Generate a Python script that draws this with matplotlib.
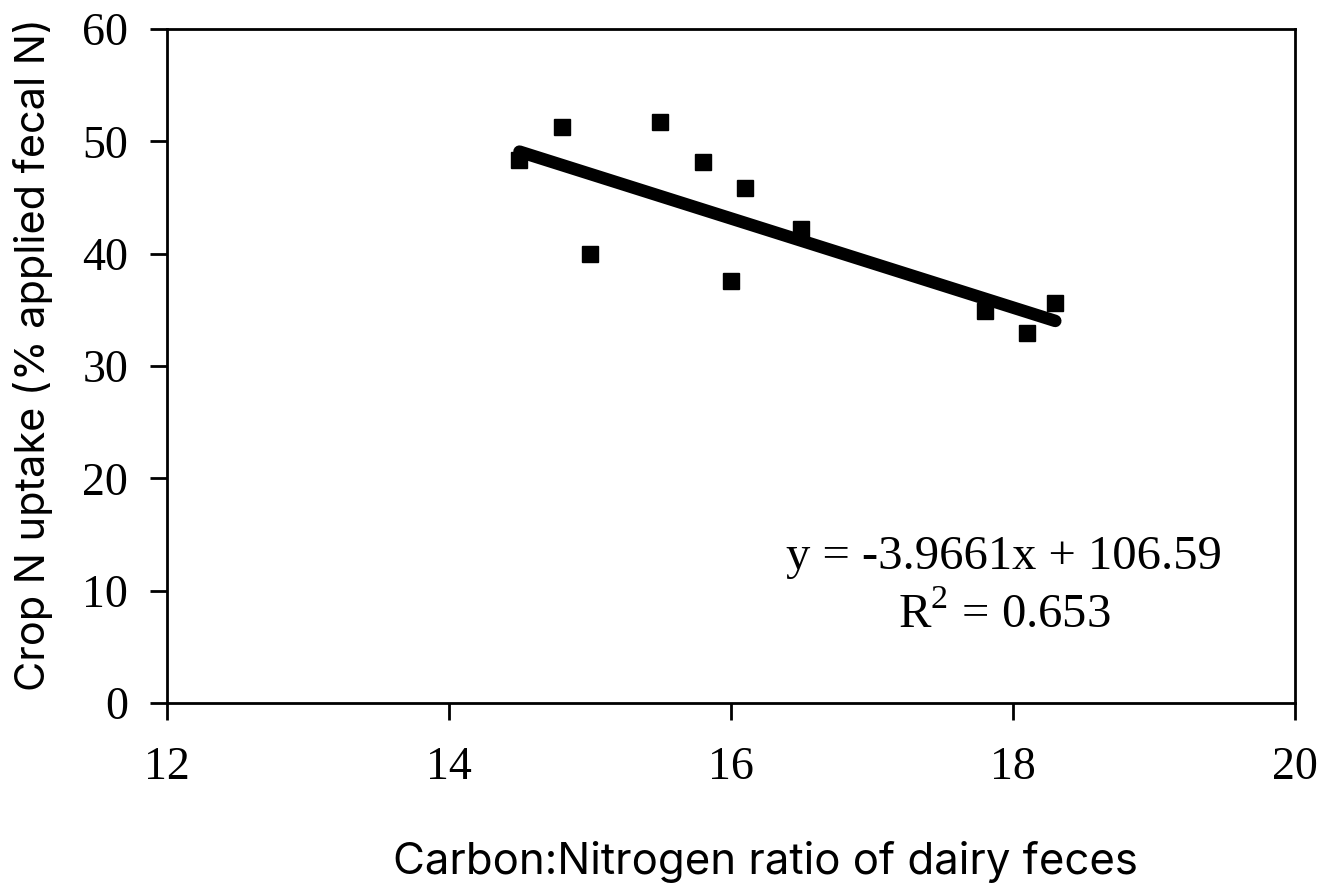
import numpy as np
import matplotlib.pyplot as plt

# C:N ratio of dairy feces vs crop N uptake (% of applied fecal N)
cn_ratio = [14.5, 14.8, 15.0, 15.5, 15.8, 16.1, 16.0, 16.5, 17.8, 18.1, 18.3]
n_uptake = [48.3, 51.3, 40.0, 51.7, 48.2, 45.8, 37.6, 42.2, 34.9, 32.9, 35.6]

# linear trend reported on the chart
slope = -3.9661
intercept = 106.59
r_squared = 0.653

x_ticks = [12, 14, 16, 18, 20]
y_ticks = [0, 10, 20, 30, 40, 50, 60]

plt.rcParams['mathtext.fontset'] = 'custom'
plt.rcParams['mathtext.rm'] = 'Liberation Serif'

fig = plt.figure(figsize=(13.24, 8.91), dpi=100)
ax = fig.add_axes([0.1261, 0.211, 0.852, 0.7565])

# trend line over the range of the data
xs = np.array([min(cn_ratio), max(cn_ratio)])
ax.plot(xs, slope * xs + intercept, color='black', lw=9, solid_capstyle='round')
ax.plot(cn_ratio, n_uptake, 's', color='black', markersize=12, zorder=3)

ax.set_xlim(12, 20)
ax.set_ylim(0, 60)
ax.set_xticks(x_ticks)
ax.set_yticks(y_ticks)

serif = ['Liberation Serif', 'DejaVu Serif']
ax.set_xticklabels([str(t) for t in x_ticks], fontfamily=serif, fontsize=33)
ax.set_yticklabels([str(t) for t in y_ticks], fontfamily=serif, fontsize=33)
ax.tick_params(direction='out', length=12, width=2.0)
ax.tick_params(axis='x', pad=19)
ax.tick_params(axis='y', pad=16)
for sp in ax.spines.values():
    sp.set_linewidth(2.0)

ax.text(0.742, 0.2166, 'y = -3.9661x + 106.59', transform=ax.transAxes,
        ha='center', va='center', fontsize=35, fontfamily=serif)
ax.text(0.742, 0.1306, r'R$^{\mathrm{2}}$ = %.3f' % r_squared, transform=ax.transAxes,
        ha='center', va='center', fontsize=35, fontfamily=serif)

sans = ['Inter', 'DejaVu Sans']
fig.text(0.5785, 0.032, 'Carbon:Nitrogen ratio of dairy feces', ha='center', va='center',
         fontsize=31.5, fontfamily=sans)
fig.text(0.025, 0.602, 'Crop N uptake (% applied fecal N)', ha='center', va='center',
         rotation=90, fontsize=29.8, fontfamily=sans)

fig.savefig('out.png', dpi=100)
